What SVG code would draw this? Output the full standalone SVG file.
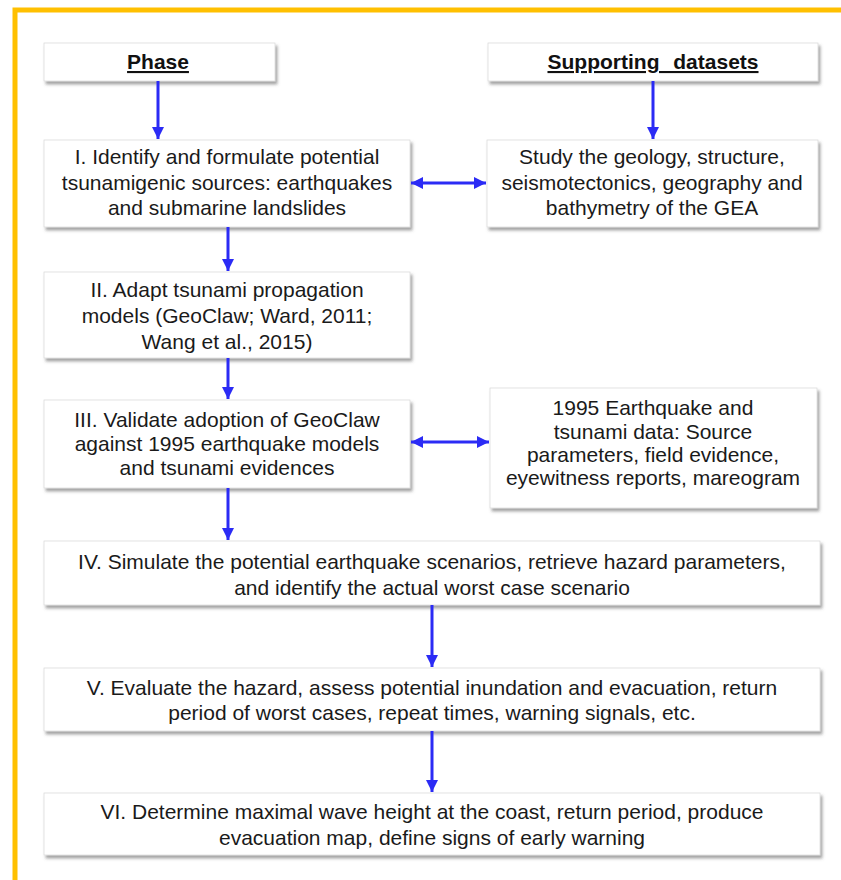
<svg xmlns="http://www.w3.org/2000/svg" width="841" height="880" viewBox="0 0 841 880">
<defs>
<filter id="sh" x="-5%" y="-10%" width="115%" height="130%">
<feDropShadow dx="2" dy="3" stdDeviation="1.5" flood-color="#555" flood-opacity="0.55"/>
</filter>
<marker id="ah" markerUnits="userSpaceOnUse" markerWidth="14" markerHeight="14" refX="12" refY="6" orient="auto-start-reverse">
<path d="M0,0 L12,6 L0,12 Z" fill="#2b2bf5"/>
</marker>
</defs>
<style>
.box{fill:#fff;stroke:#dcdcdc;stroke-width:0.8;filter:url(#sh)}
.t{font-family:"Liberation Sans",Arial,sans-serif;font-size:21px;fill:#1a1a1a;text-anchor:middle}
.h{font-family:"Liberation Sans",Arial,sans-serif;font-size:21px;font-weight:bold;fill:#111;text-anchor:middle;text-decoration:underline}
.c{stroke:#2b2bf5;stroke-width:3;fill:none}
</style>
<rect x="0" y="0" width="841" height="880" fill="#fff"/>
<path d="M15,885 L15,10 L845,10" fill="none" stroke="#ffc000" stroke-width="5"/>

<g id="phase">
<rect class="box" x="44" y="43" width="231" height="38"/>
<text class="h" x="158" y="69">Phase</text>
</g>
<g id="datasets">
<rect class="box" x="488" y="43" width="330" height="38"/>
<text class="h" x="653" y="69" word-spacing="8">Supporting datasets</text>
</g>
<g id="p1">
<rect class="box" x="44" y="140" width="366" height="87"/>
<text class="t" x="227" y="164">I. Identify and formulate potential</text>
<text class="t" x="227" y="190">tsunamigenic sources: earthquakes</text>
<text class="t" x="227" y="215">and submarine landslides</text>
</g>
<g id="d1">
<rect class="box" x="487" y="140" width="331" height="87"/>
<text class="t" x="652" y="164">Study the geology, structure,</text>
<text class="t" x="652" y="190">seismotectonics, geography and</text>
<text class="t" x="652" y="215">bathymetry of the GEA</text>
</g>
<g id="p2">
<rect class="box" x="44" y="272" width="366" height="86"/>
<text class="t" x="227" y="297">II. Adapt tsunami propagation</text>
<text class="t" x="227" y="323">models (GeoClaw; Ward, 2011;</text>
<text class="t" x="227" y="349">Wang et al., 2015)</text>
</g>
<g id="p3">
<rect class="box" x="44" y="400" width="366" height="88"/>
<text class="t" x="227" y="427">III. Validate adoption of GeoClaw</text>
<text class="t" x="227" y="451">against 1995 earthquake models</text>
<text class="t" x="227" y="475">and tsunami evidences</text>
</g>
<g id="d3">
<rect class="box" x="490" y="388" width="327" height="120"/>
<text class="t" x="653" y="415">1995 Earthquake and</text>
<text class="t" x="653" y="439">tsunami data: Source</text>
<text class="t" x="653" y="462">parameters, field evidence,</text>
<text class="t" x="653" y="485">eyewitness reports, mareogram</text>
</g>
<g id="p4">
<rect class="box" x="44" y="541" width="776" height="64"/>
<text class="t" x="432" y="569">IV. Simulate the potential earthquake scenarios, retrieve hazard parameters,</text>
<text class="t" x="432" y="595">and identify the actual worst case scenario</text>
</g>
<g id="p5">
<rect class="box" x="44" y="668" width="776" height="63"/>
<text class="t" x="432" y="695">V. Evaluate the hazard, assess potential inundation and evacuation, return</text>
<text class="t" x="432" y="720">period of worst cases, repeat times, warning signals, etc.</text>
</g>
<g id="p6">
<rect class="box" x="44" y="793" width="776" height="62"/>
<text class="t" x="432" y="819">VI. Determine maximal wave height at the coast, return period, produce</text>
<text class="t" x="432" y="845">evacuation map, define signs of early warning</text>
</g>

<g id="connectors">
<line class="c" x1="158" y1="81" x2="158" y2="139" marker-end="url(#ah)"/>
<line class="c" x1="653" y1="81" x2="653" y2="139" marker-end="url(#ah)"/>
<line class="c" x1="411" y1="183" x2="486" y2="183" marker-start="url(#ah)" marker-end="url(#ah)"/>
<line class="c" x1="228" y1="227" x2="228" y2="271" marker-end="url(#ah)"/>
<line class="c" x1="228" y1="358" x2="228" y2="399" marker-end="url(#ah)"/>
<line class="c" x1="411" y1="442" x2="489" y2="442" marker-start="url(#ah)" marker-end="url(#ah)"/>
<line class="c" x1="228" y1="488" x2="228" y2="540" marker-end="url(#ah)"/>
<line class="c" x1="432" y1="605" x2="432" y2="667" marker-end="url(#ah)"/>
<line class="c" x1="432" y1="731" x2="432" y2="792" marker-end="url(#ah)"/>
</g>
</svg>
